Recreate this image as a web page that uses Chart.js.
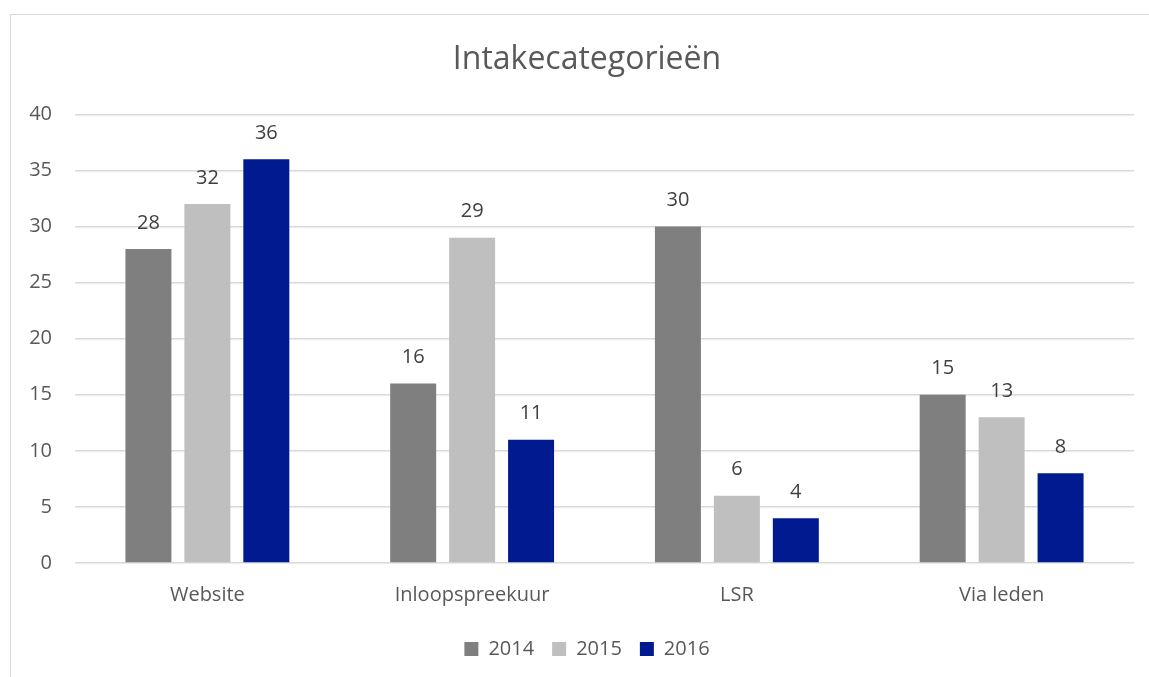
<!DOCTYPE html>
<html>
<head>
<meta charset="utf-8">
<script src="https://cdn.jsdelivr.net/npm/chart.js@4/dist/chart.umd.min.js"></script>
<style>
  html, body { margin: 0; padding: 0; background: #ffffff; }
  body { width: 1149px; height: 677px; position: relative; overflow: hidden; }
  #frame { position: absolute; left: 10px; top: 14px; width: 1200px; height: 720px; border: 1.5px solid #d9d9d9; box-sizing: border-box; }
  #wrap { position: absolute; left: 0; top: 0; width: 1149px; height: 677px; }
</style>
</head>
<body>
<div id="frame"></div>
<div id="wrap"><canvas id="c" width="1149" height="677"></canvas></div>
<script>
const categories = ["Website", "Inloopspreekuur", "LSR", "Via leden"];
const seriesNames = ["2014", "2015", "2016"];
const values2014 = [28, 16, 30, 15];
const values2015 = [32, 29, 6, 13];
const values2016 = [36, 11, 4, 8];
const yTicks = [0, 5, 10, 15, 20, 25, 30, 35, 40];
const titleText = "Intakecategorieën";

const colors = ["#7f7f7f", "#bfbfbf", "#001a8f"];
const FONT = "'Open Sans', 'DejaVu Sans', sans-serif";

const valueLabels = {
  id: 'valueLabels',
  afterDatasetsDraw(chart) {
    const ctx = chart.ctx;
    ctx.save();
    ctx.font = "20px " + FONT;
    ctx.fillStyle = "#404040";
    ctx.textAlign = "center";
    ctx.textBaseline = "middle";
    chart.data.datasets.forEach((ds, i) => {
      const meta = chart.getDatasetMeta(i);
      meta.data.forEach((el, j) => {
        ctx.fillText(String(ds.data[j]), el.x, el.y - 26);
      });
    });
    ctx.restore();
  }
};

// Center title and legend on the chart frame (which is offset from the canvas edge)
const frameCenter = {
  id: 'frameCenter',
  afterLayout(chart) {
    if (chart.titleBlock) { chart.titleBlock.left += 40; }
    if (chart.legend) { chart.legend.left += 40; }
  }
};

new Chart(document.getElementById('c'), {
  type: 'bar',
  data: {
    labels: categories,
    datasets: [
      { label: seriesNames[0], data: values2014, backgroundColor: colors[0] },
      { label: seriesNames[1], data: values2015, backgroundColor: colors[1] },
      { label: seriesNames[2], data: values2016, backgroundColor: colors[2] }
    ]
  },
  options: {
    responsive: false,
    animation: false,
    devicePixelRatio: 1,
    categoryPercentage: 0.668,
    barPercentage: 0.78,
    layout: { padding: { left: 0, right: 15, top: 0, bottom: 8 } },
    plugins: {
      title: {
        display: true,
        text: titleText,
        color: "#595959",
        font: { family: FONT, size: 32, weight: 'normal' },
        padding: { top: 41, bottom: 35 }
      },
      legend: {
        display: true,
        position: 'bottom',
        labels: {
          color: "#595959",
          font: { family: FONT, size: 20 },
          boxWidth: 14,
          boxHeight: 14,
          padding: 18
        }
      },
      tooltip: { enabled: false }
    },
    scales: {
      x: {
        afterFit(scale) { scale.height -= 7; },
        grid: { display: false, drawTicks: false },
        border: { display: false },
        ticks: { color: "#595959", font: { family: FONT, size: 20 }, padding: 20.5 }
      },
      y: {
        min: 0,
        max: 40,
        afterBuildTicks(scale) { scale.ticks = yTicks.map(v => ({ value: v })); },
        afterFit(scale) { scale.width = 75; },
        grid: { color: "#d9d9d9", lineWidth: 1.5, drawTicks: false },
        border: { display: false },
        ticks: { color: "#595959", font: { family: FONT, size: 20 }, padding: 23 }
      }
    }
  },
  plugins: [valueLabels, frameCenter]
});
</script>
</body>
</html>
